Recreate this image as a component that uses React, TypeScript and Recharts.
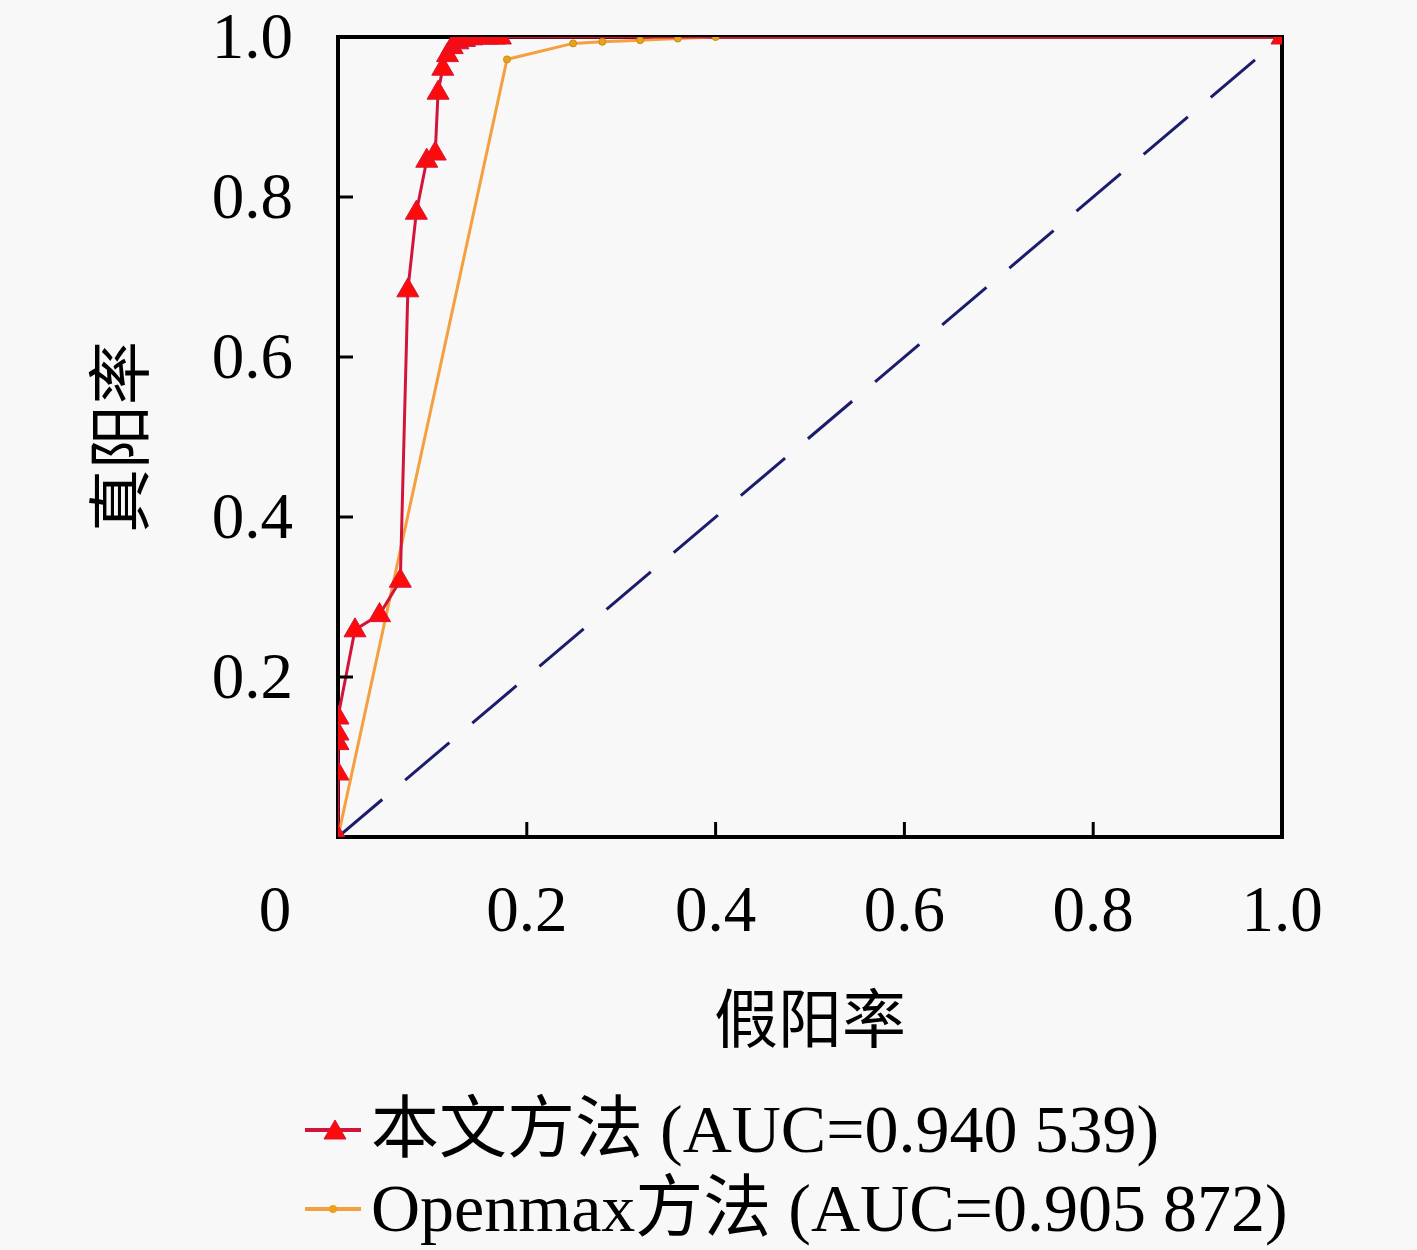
import React from "react";
import {
  LineChart,
  Line,
  XAxis,
  YAxis,
  ReferenceArea,
  Legend,
  Label,
} from "recharts";

// 本文方法 ROC points
const oursFpr = [0, 0, 0, 0, 0, 0.018, 0.044, 0.066, 0.074, 0.083, 0.094, 0.103, 0.106, 0.111, 0.116, 0.121, 0.127, 0.134, 0.142, 0.15, 0.158, 0.166, 0.172, 1.0];
const oursTpr = [0, 0.08, 0.118, 0.13, 0.15, 0.259, 0.278, 0.321, 0.684, 0.781, 0.846, 0.855, 0.931, 0.961, 0.978, 0.988, 0.994, 0.997, 0.999, 1.0, 1.0, 1.0, 1.0, 1.0];

// Openmax ROC points
const openFpr = [0, 0.179, 0.249, 0.28, 0.32, 0.36, 0.4, 1.0];
const openTpr = [0, 0.972, 0.992, 0.994, 0.996, 0.998, 1.0, 1.0];

// chance diagonal
const diagFpr = [0, 1];
const diagTpr = [0, 1];

const xTicks = [0, 0.2, 0.4, 0.6, 0.8, 1.0];
const yTicks = [0.2, 0.4, 0.6, 0.8, 1.0];

const oursLabel = "本文方法 (AUC=0.940 539)";
const openLabel = "Openmax方法 (AUC=0.905 872)";

const toRows = (xs: number[], ys: number[]) => xs.map((fpr, i) => ({ fpr, tpr: ys[i] }));
const oursData = toRows(oursFpr, oursTpr);
const openData = toRows(openFpr, openTpr);
const diagData = toRows(diagFpr, diagTpr);

const FONT = "'Liberation Serif', 'Noto Sans CJK SC', serif";
const RED_LINE = "#d3143a";
const RED_MARK = "#ff0a0a";
const ORANGE_LINE = "#f5a040";
const ORANGE_MARK = "#e9a21a";

const fmt = (v: number) => (v === 0 ? "0" : v.toFixed(1));

const Triangle = ({ cx, cy }: { cx: number; cy: number }) => (
  <path
    d={`M${cx},${cy - 12} L${cx + 11},${cy + 7} L${cx - 11},${cy + 7} Z`}
    fill={RED_MARK}
    stroke={RED_LINE}
    strokeWidth={1}
  />
);

const renderTriangle = (props: any) => (
  <Triangle key={`t-${props.index}`} cx={props.cx} cy={props.cy} />
);

const renderDot = (props: any) => (
  <circle key={`d-${props.index}`} cx={props.cx} cy={props.cy} r={3.5} fill={ORANGE_MARK} stroke="#c98a10" strokeWidth={1} />
);

const XTick = (props: any) => {
  const { x, y, payload } = props;
  const v = payload.value as number;
  return (
    <g>
      {v > 0 && v < 1 && (
        <line x1={x} y1={y} x2={x} y2={y - 15} stroke="#000" strokeWidth={3} />
      )}
      <text
        x={v === 0 ? x - 63 : x}
        y={y + 72}
        textAnchor="middle"
        dominantBaseline="central"
        fontFamily={FONT}
        fontSize={65}
        fill="#000"
      >
        {fmt(v)}
      </text>
    </g>
  );
};

const YTick = (props: any) => {
  const { x, y, payload } = props;
  const v = payload.value as number;
  return (
    <g>
      {v < 1 && <line x1={x} y1={y} x2={x + 15} y2={y} stroke="#000" strokeWidth={3} />}
      <text
        x={x - 45}
        y={y - 1}
        textAnchor="end"
        dominantBaseline="central"
        fontFamily={FONT}
        fontSize={65}
        fill="#000"
      >
        {fmt(v)}
      </text>
    </g>
  );
};

const renderLegend = () => (
  <div style={{ fontFamily: FONT, fontSize: 68, color: "#000", lineHeight: "79px" }}>
    <div style={{ display: "flex", alignItems: "center", height: 79 }}>
      <svg width={60} height={30} style={{ marginRight: 8 }}>
        <line x1={2} y1={15} x2={58} y2={15} stroke={RED_LINE} strokeWidth={4} />
        <Triangle cx={32} cy={17} />
      </svg>
      <span style={{ whiteSpace: "nowrap" }}>{oursLabel}</span>
    </div>
    <div style={{ display: "flex", alignItems: "center", height: 79 }}>
      <svg width={60} height={30} style={{ marginRight: 8 }}>
        <line x1={2} y1={15} x2={58} y2={15} stroke={ORANGE_LINE} strokeWidth={4} />
        <circle cx={30} cy={15} r={4} fill={ORANGE_MARK} />
      </svg>
      <span style={{ whiteSpace: "nowrap" }}>{openLabel}</span>
    </div>
  </div>
);

export default function App() {
  return (
    <div style={{ position: "absolute", left: 0, top: 0, background: "#f8f8f8" }}>
      <LineChart
        width={1417}
        height={1250}
        margin={{ top: 37, right: 135, bottom: 313, left: 238 }}
      >
        <XAxis
          dataKey="fpr"
          type="number"
          domain={[0, 1]}
          ticks={xTicks}
          height={100}
          axisLine={false}
          tickLine={false}
          tickSize={0}
          tickMargin={0}
          tick={<XTick />}
          interval={0}
          allowDataOverflow
        >
          <Label
            value="假阳率"
            position="bottom"
            offset={60}
            style={{ fontFamily: FONT, fontSize: 64, fill: "#000" }}
          />
        </XAxis>
        <YAxis
          type="number"
          domain={[0, 1]}
          ticks={yTicks}
          width={100}
          axisLine={false}
          tickLine={false}
          tickSize={0}
          tickMargin={0}
          tick={<YTick />}
          interval={0}
          allowDataOverflow
        >
          <Label
            value="真阳率"
            angle={-90}
            position="left"
            offset={118}
            style={{ fontFamily: FONT, fontSize: 64, fill: "#000", textAnchor: "middle" }}
          />
        </YAxis>
        <ReferenceArea
          x1={0}
          x2={1}
          y1={0}
          y2={1}
          fill="none"
          fillOpacity={0}
          stroke="#000"
          strokeWidth={4}
        />
        <Line
          data={diagData}
          dataKey="tpr"
          stroke="#1c1c6c"
          strokeWidth={3}
          strokeDasharray="58 30"
          dot={false}
          legendType="none"
          isAnimationActive={false}
        />
        <Line
          data={openData}
          dataKey="tpr"
          name={openLabel}
          stroke={ORANGE_LINE}
          strokeWidth={3}
          dot={renderDot}
          isAnimationActive={false}
        />
        <Line
          data={oursData}
          dataKey="tpr"
          name={oursLabel}
          stroke={RED_LINE}
          strokeWidth={3}
          dot={renderTriangle}
          isAnimationActive={false}
        />
        <Legend
          layout="vertical"
          align="center"
          verticalAlign="middle"
          wrapperStyle={{ top: 1090, left: 303, width: 1100 }}
          content={renderLegend}
        />
      </LineChart>
    </div>
  );
}
